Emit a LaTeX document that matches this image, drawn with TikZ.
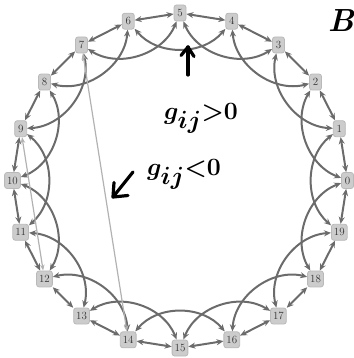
\documentclass[tikz,border=0pt]{standalone}
\usetikzlibrary{arrows.meta}
\begin{document}
\begin{tikzpicture}[x=1pt,y=1pt,
  vnode/.style={draw=gray!55, fill=gray!40, rounded corners=2.5pt, line width=0.8pt,
    inner xsep=2.5pt, inner ysep=1pt, minimum height=16pt, minimum width=12pt,
    text=black!80, font=\fontsize{11}{12}\selectfont},
  link/.style={draw=black!58, line width=2pt, {Stealth[length=7pt,width=6pt]}-{Stealth[length=7pt,width=6pt]}},
  far/.style={draw=gray!60, line width=1.2pt, {Stealth[length=6pt,width=4.5pt]}-{Stealth[length=6pt,width=4.5pt]}},
  hand/.style={draw=black, line width=3.2pt, line cap=round, line join=round},
  handtext/.style={text=black, font=\fontsize{34}{36}\selectfont\boldmath}
]
\useasboundingbox (-180,-177.5) rectangle (173,180.5);
\foreach \i in {0,...,19} {
  \node[vnode] (n\i) at ({18*\i}:167.5) {\i};
}
\foreach \i in {0,...,19} {
  \pgfmathtruncatemacro{\j}{mod(\i+1,20)}
  \pgfmathtruncatemacro{\k}{mod(\i+2,20)}
  \draw[link] (n\i) -- (n\j);
  \draw[link] (n\i) to[bend left=50] (n\k);
}
\draw[far] (n7) -- (n14);
\draw[far] (n9) -- (n12);
% handwritten annotations
\coordinate (ua) at (8,105.5);
\coordinate (ub) at (8,133.5);
\draw[hand] (ua) -- (ub);
\draw[hand] (1,125) -- (ub) -- (14,124);
\node[handtext] (gp) at (21,62) {$g_{ij}{>}0$};
\node[handtext] (gn) at (4,6) {$g_{ij}{<}0$};
\coordinate (la) at (-47,8.5);
\coordinate (lb) at (-67,-16.5);
\draw[hand] (la) -- (lb);
\draw[hand] (-66,-2) -- (lb) -- (-52,-15);
\node[text=black, font=\fontsize{32}{34}\selectfont\bfseries\itshape, inner sep=0pt] (bb) at (161,160) {B};
\end{tikzpicture}
\end{document}
